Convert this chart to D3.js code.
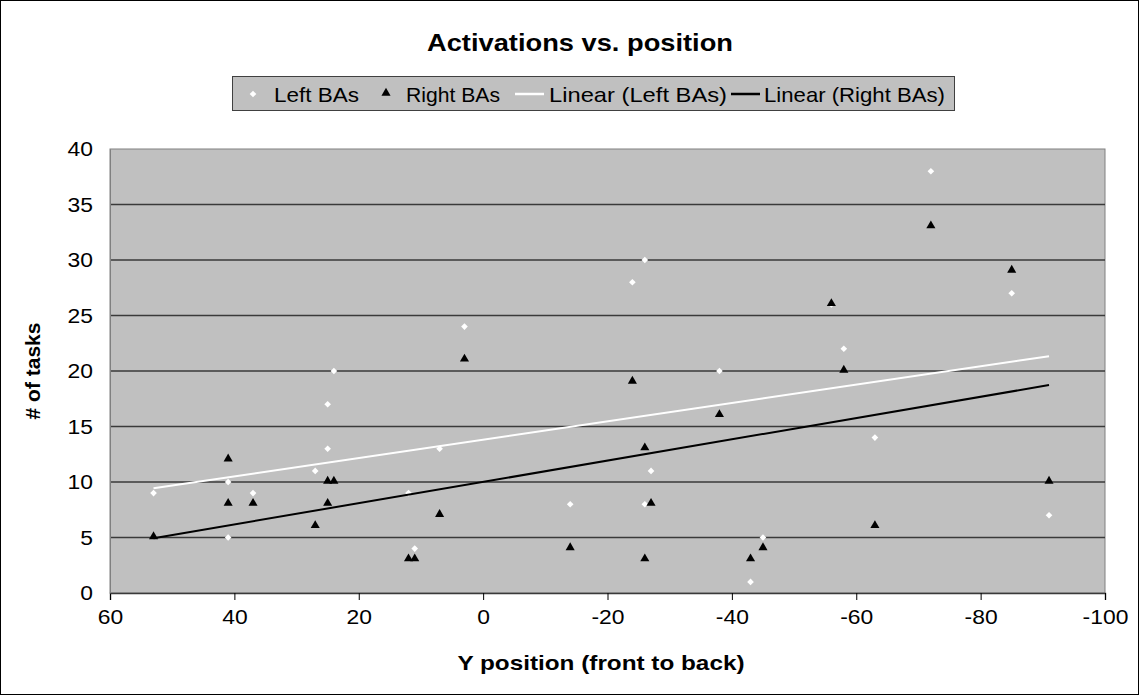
<!DOCTYPE html>
<html>
<head>
<meta charset="utf-8">
<script src="https://cdn.jsdelivr.net/npm/d3@7"></script>
<style>
  body { margin: 0; background: #fff; }
  svg { display: block; font-family: Arial, "Liberation Sans", sans-serif; }
</style>
</head>
<body>
<svg id="chart"></svg>
<script>
// data (the left point at -56 sits under its triangle)
const leftX  = [53, 41, 41, 37, 27, 25, 25, 24, 12, 11, 7, 3, -14, -24, -26, -26, -27, -38, -43, -45, -56, -58, -63, -72, -85, -91];
const leftY  = [9, 10, 5, 9, 11, 13, 17, 20, 9, 4, 13, 24, 8, 28, 30, 8, 11, 20, 1, 5, 26, 22, 14, 38, 27, 7];
const rightX = [53, 41, 41, 37, 27, 25, 24, 25, 12, 11, 7, 3, -14, -24, -26, -26, -27, -38, -43, -45, -56, -58, -63, -72, -85, -91];
const rightY = [5, 12, 8, 8, 6, 10, 10, 8, 3, 3, 7, 21, 4, 19, 13, 3, 8, 16, 3, 4, 26, 20, 6, 33, 29, 10];
const xTicks = [60, 40, 20, 0, -20, -40, -60, -80, -100];
const yTicks = [0, 5, 10, 15, 20, 25, 30, 35, 40];
const legendLabels = ["Left BAs", "Right BAs", "Linear (Left BAs)", "Linear (Right BAs)"];

const width = 1140, height = 696;
const plot = { left: 110, right: 1105, top: 149, bottom: 593 };
const sx = 1.09; // the picture's text is a little wide

const svg = d3.select('#chart').attr('width', width).attr('height', height);

// outer frame
svg.append('rect')
    .attr('x', 0.5).attr('y', 0.5)
    .attr('width', width - 2).attr('height', height - 2)
    .attr('fill', '#fff').attr('stroke', '#000');

const xScale = d3.scaleLinear().domain([60, -100]).range([plot.left, plot.right]);
const yScale = d3.scaleLinear().domain([0, 40]).range([plot.bottom, plot.top]);

// plot area
svg.append('rect')
    .attr('x', plot.left).attr('y', plot.top)
    .attr('width', plot.right - plot.left).attr('height', plot.bottom - plot.top)
    .attr('fill', '#c0c0c0').attr('stroke', '#808080');

// gridlines
svg.append('g')
    .selectAll('line')
    .data(yTicks.filter(d => d > 0 && d < 40))
    .enter()
    .append('line')
    .attr('x1', plot.left).attr('x2', plot.right)
    .attr('y1', d => yScale(d)).attr('y2', d => yScale(d))
    .attr('stroke', '#3a3a3a').attr('stroke-width', 1.4);

// axes
const xAxis = d3.axisBottom(xScale).tickValues(xTicks).tickSize(7).tickPadding(9).tickFormat(d => String(d));
svg.append('g')
    .attr('transform', `translate(0, ${plot.bottom})`)
    .call(xAxis)
    .call(g => g.select('.domain').attr('stroke', '#3a3a3a').attr('stroke-width', 1.4))
    .call(g => g.selectAll('.tick line').attr('stroke', '#000'))
    .call(g => g.selectAll('text')
        .attr('font-size', 21).attr('font-family', 'Arial, Liberation Sans').attr('fill', '#000')
        .attr('transform', `scale(${sx},1)`));

const yAxis = d3.axisLeft(yScale).tickValues(yTicks).tickSize(0).tickPadding(17).tickFormat(d => String(d));
svg.append('g')
    .attr('transform', `translate(${plot.left}, 0)`)
    .call(yAxis)
    .call(g => g.select('.domain').attr('stroke', '#808080'))
    .call(g => g.selectAll('text')
        .attr('font-size', 21).attr('font-family', 'Arial, Liberation Sans').attr('fill', '#000')
        .attr('transform', `translate(-17,0) scale(${sx},1) translate(17,0)`));

// trend lines (least squares, drawn over the data range)
function trend(xs, ys) {
    const mx = d3.mean(xs), my = d3.mean(ys);
    const slope = d3.sum(xs, (x, i) => (x - mx) * (ys[i] - my)) / d3.sum(xs, x => (x - mx) * (x - mx));
    const b = my - slope * mx;
    const x0 = d3.max(xs), x1 = d3.min(xs);
    return [[x0, b + slope * x0], [x1, b + slope * x1]];
}
const line = d3.line().x(d => xScale(d[0])).y(d => yScale(d[1]));

const diamond = d3.symbol().type(d3.symbolDiamond2).size(28);
const triangle = d3.symbol().type(d3.symbolTriangle).size(36);

svg.append('g')
    .selectAll('path')
    .data(leftX.map((x, i) => [x, leftY[i]]))
    .enter()
    .append('path')
    .attr('d', diamond)
    .attr('transform', d => `translate(${xScale(d[0])}, ${yScale(d[1])})`)
    .attr('fill', '#fff');

svg.append('g')
    .selectAll('path')
    .data(rightX.map((x, i) => [x, rightY[i]]))
    .enter()
    .append('path')
    .attr('d', triangle)
    .attr('transform', d => `translate(${xScale(d[0])}, ${yScale(d[1]) - 1})`)
    .attr('fill', '#000');

svg.append('path')
    .attr('d', line(trend(leftX, leftY)))
    .attr('stroke', '#fff').attr('stroke-width', 2).attr('fill', 'none');
svg.append('path')
    .attr('d', line(trend(rightX, rightY)))
    .attr('stroke', '#000').attr('stroke-width', 2).attr('fill', 'none');

// title
svg.append('text')
    .attr('x', 580).attr('y', 51)
    .attr('text-anchor', 'middle')
    .attr('font-size', 24).attr('font-weight', 'bold')
    .attr('textLength', 306).attr('lengthAdjust', 'spacingAndGlyphs')
    .text('Activations vs. position');

// axis titles
svg.append('text')
    .attr('x', 601).attr('y', 670)
    .attr('text-anchor', 'middle')
    .attr('font-size', 21).attr('font-weight', 'bold')
    .attr('textLength', 287).attr('lengthAdjust', 'spacingAndGlyphs')
    .text('Y position (front to back)');

svg.append('text')
    .attr('transform', 'translate(40, 371) rotate(-90)')
    .attr('text-anchor', 'middle')
    .attr('font-size', 21).attr('font-weight', 'bold')
    .text('# of tasks');

// legend
const legend = svg.append('g');
legend.append('rect')
    .attr('x', 232.5).attr('y', 76.5)
    .attr('width', 722).attr('height', 34)
    .attr('fill', '#c0c0c0').attr('stroke', '#404040');

const markX = [253, 386, 530, 746];
const labelX = [274, 406, 549, 764];
const labelW = [85, 94, 178, 181];
legendLabels.forEach((lab, i) => {
    const cy = 94;
    if (i === 0) legend.append('path').attr('d', diamond).attr('transform', `translate(${markX[i]}, ${cy})`).attr('fill', '#fff');
    if (i === 1) legend.append('path').attr('d', triangle).attr('transform', `translate(${markX[i]}, ${cy - 1})`).attr('fill', '#000');
    if (i >= 2) legend.append('line')
        .attr('x1', markX[i] - 15).attr('x2', markX[i] + 14)
        .attr('y1', cy).attr('y2', cy)
        .attr('stroke', i === 2 ? '#fff' : '#000').attr('stroke-width', 2.5);
    legend.append('text')
        .attr('x', labelX[i]).attr('y', cy + 7.5)
        .attr('font-size', 21)
        .attr('textLength', labelW[i]).attr('lengthAdjust', 'spacingAndGlyphs')
        .text(lab);
});
</script>
</body>
</html>
